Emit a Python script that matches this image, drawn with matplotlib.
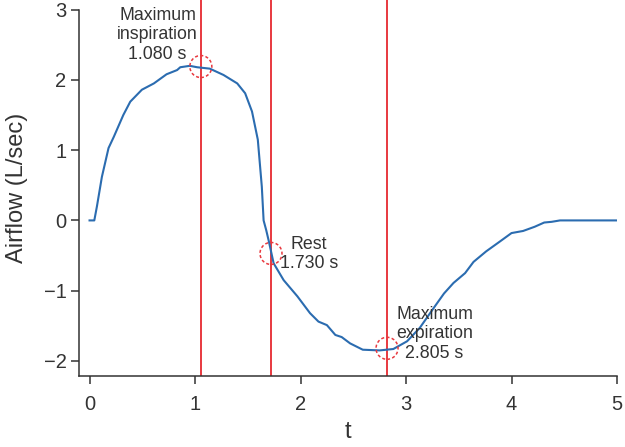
import matplotlib
matplotlib.use("Agg")
import matplotlib.pyplot as plt
from matplotlib.patches import Ellipse

plt.rcParams['font.family'] = ['Liberation Sans', 'DejaVu Sans']

# Airflow trace
t = [0.0, 0.045, 0.07, 0.117, 0.18, 0.23, 0.32, 0.386, 0.496, 0.61, 0.73, 0.83,
     0.86, 0.95, 1.02, 1.14, 1.27, 1.40, 1.475, 1.54, 1.595, 1.633, 1.65, 1.675,
     1.70, 1.745, 1.84, 1.97, 2.09, 2.17, 2.25, 2.33, 2.39, 2.47, 2.59, 2.75,
     2.88, 3.01, 3.13, 3.27, 3.36, 3.45, 3.56, 3.64, 3.76, 3.89, 4.0, 4.11,
     4.22, 4.31, 4.38, 4.46, 5.0]
airflow = [0.0, 0.0, 0.2, 0.62, 1.03, 1.19, 1.5, 1.69, 1.86, 1.95, 2.08, 2.14,
           2.18, 2.2, 2.18, 2.16, 2.07, 1.95, 1.81, 1.55, 1.15, 0.48, 0.0, -0.14,
           -0.30, -0.61, -0.85, -1.08, -1.32, -1.44, -1.49, -1.63, -1.66, -1.75,
           -1.84, -1.85, -1.83, -1.72, -1.53, -1.23, -1.04, -0.89, -0.75, -0.59,
           -0.44, -0.30, -0.18, -0.15, -0.09, -0.03, -0.02, 0.0, 0.0]

# Event markers
event_t = [1.055, 1.72, 2.82]
event_y = [2.19, -0.47, -1.82]
event_labels = ["Maximum\ninspiration\n1.080 s", "Rest\n1.730 s",
                "Maximum\nexpiration\n2.805 s"]
label_x = [0.645, 2.08, 3.27]
label_y = [2.64, -0.477, -1.615]

x_ticks = [0, 1, 2, 3, 4, 5]
y_ticks = [-2, -1, 0, 1, 2, 3]

txt = '#333333'
fig = plt.figure(figsize=(6.25, 4.47), dpi=100)
ax = fig.add_axes([0.1264, 0.1595, 0.8608, 0.8405])

ax.plot(t, airflow, color='#2b6cb0', lw=1.5, zorder=3)
for et in event_t:
    ax.axvline(et, color='#e8393f', lw=1.4, zorder=2)
for et, ey in zip(event_t, event_y):
    ax.add_patch(Ellipse((et, ey), 22 / 105.6, 22 / 70.3, fill=False,
                         edgecolor='#e8393f', lw=1.1, ls=(0, (2, 1.5)), zorder=4))
for lx, ly, lab in zip(label_x, label_y, event_labels):
    ax.text(lx, ly, lab, ha='center', va='center', fontsize=12.8, color=txt,
            linespacing=1.22)

ax.set_xlim(-0.1, 5)
ax.set_ylim(-2.21, 3.137)
ax.set_xticks(x_ticks)
ax.set_yticks(y_ticks)
for s in ['top', 'right']:
    ax.spines[s].set_visible(False)
for s in ['left', 'bottom']:
    ax.spines[s].set_color(txt)
    ax.spines[s].set_linewidth(1.1)
ax.spines['left'].set_bounds(-2.21, 3)
ax.tick_params(axis='both', direction='out', length=6, width=1.1, color=txt,
               labelcolor=txt, labelsize=14.5)
ax.tick_params(axis='x', pad=8)
ax.tick_params(axis='y', pad=3)
ax.set_xlabel('t', fontsize=17, color=txt, labelpad=5)
ax.set_ylabel('Airflow (L/sec)', fontsize=17, color=txt, labelpad=11)

fig.savefig('out.png', dpi=100)
